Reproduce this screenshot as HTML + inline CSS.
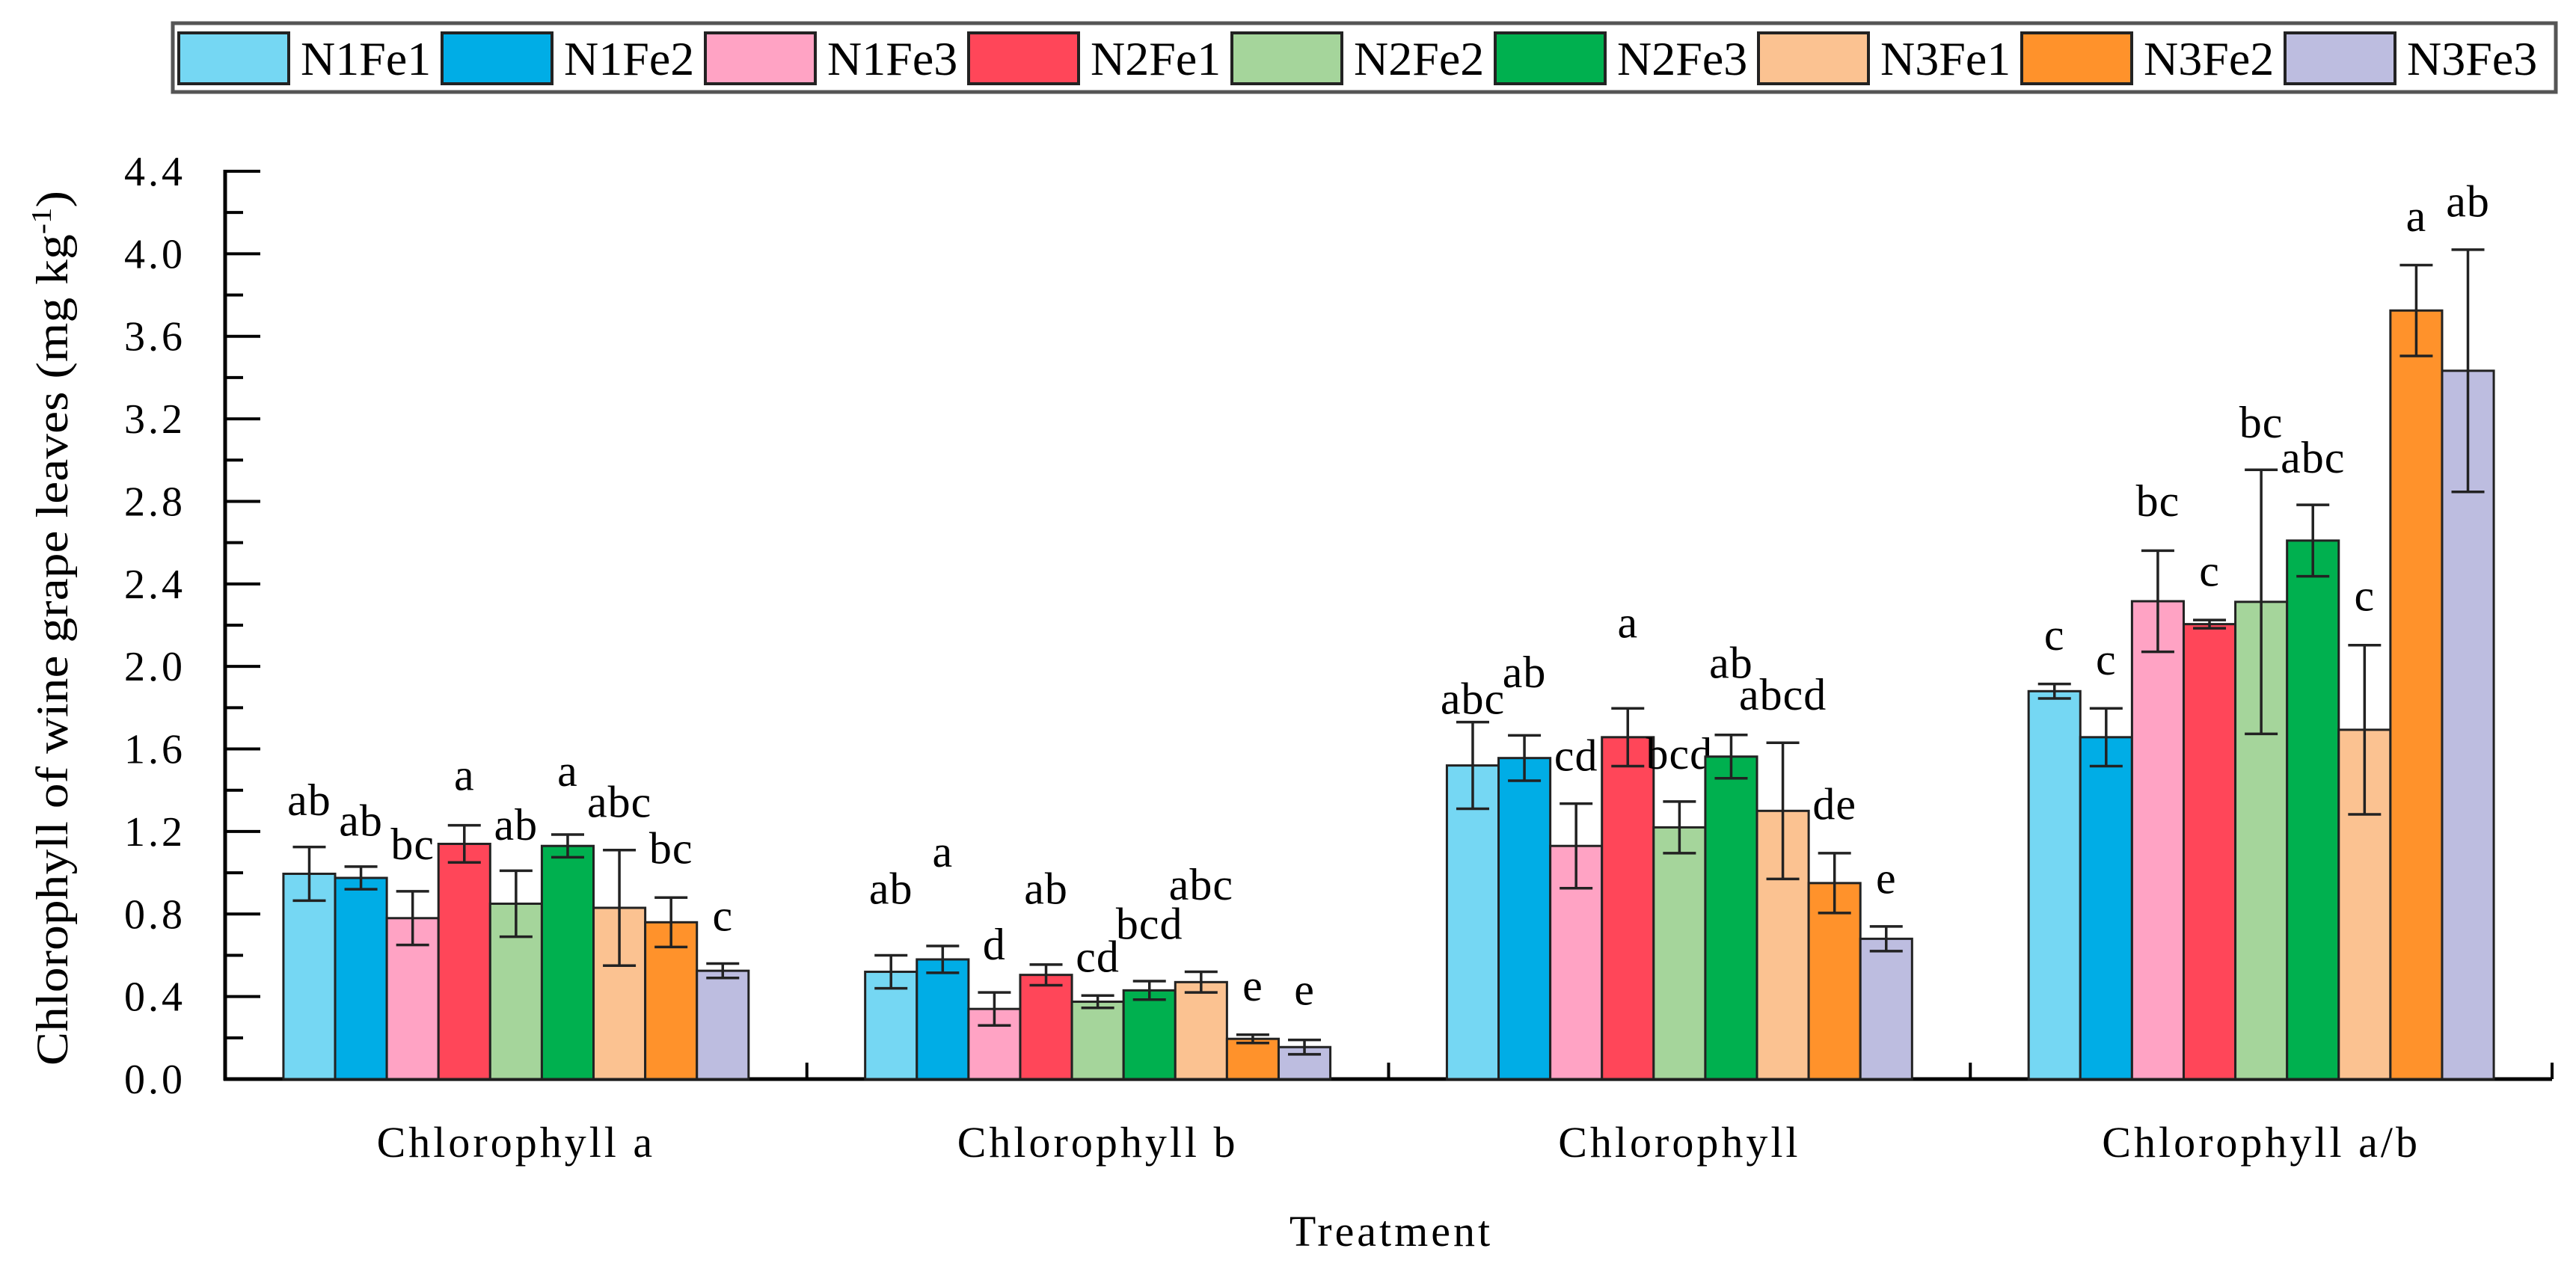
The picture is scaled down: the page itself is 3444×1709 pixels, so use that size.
<!DOCTYPE html>
<html><head><meta charset="utf-8"><style>
html,body{margin:0;padding:0;background:#fff;}
svg{display:block;}
svg text{font-family:"Liberation Serif","Times New Roman",serif;}
</style></head><body>
<svg id="chart" width="3444" height="1709" viewBox="0 0 3444 1709" font-family="Liberation Serif, serif">
<g id="legend"></g>
<g id="axes"></g>
<g id="bars"></g>
</svg>
<script>
const categories = ["Chlorophyll a","Chlorophyll b","Chlorophyll","Chlorophyll a/b"];
const seriesNames = ["N1Fe1","N1Fe2","N1Fe3","N2Fe1","N2Fe2","N2Fe3","N3Fe1","N3Fe2","N3Fe3"];
const colors = ["#75d7f3","#00ade6","#ffa3c4","#ff4659","#a5d59b","#00b04f","#fbc291","#ff922b","#bdbde0"];
const valChlA  = [0.995,0.975,0.78,1.14,0.85,1.13,0.83,0.76,0.525];
const errChlA  = [0.13,0.055,0.13,0.09,0.16,0.055,0.28,0.12,0.035];
const lblChlA  = ["ab","ab","bc","a","ab","a","abc","bc","c"];
const lblYChlA = [1.28,1.18,1.065,1.40,1.16,1.42,1.27,1.045,0.72];
const valChlB  = [0.52,0.58,0.34,0.505,0.375,0.43,0.47,0.195,0.155];
const errChlB  = [0.08,0.065,0.08,0.05,0.03,0.045,0.05,0.02,0.035];
const lblChlB  = ["ab","a","d","ab","cd","bcd","abc","e","e"];
const lblYChlB = [0.85,1.03,0.58,0.85,0.52,0.68,0.87,0.38,0.36];
const valChl   = [1.52,1.556,1.13,1.657,1.22,1.563,1.30,0.95,0.68];
const errChl   = [0.21,0.11,0.205,0.14,0.125,0.105,0.33,0.145,0.06];
const lblChl   = ["abc","ab","cd","a","bcd","ab","abcd","de","e"];
const lblYChl  = [1.77,1.90,1.495,2.14,1.505,1.945,1.79,1.26,0.90];
const valRatio = [1.88,1.657,2.316,2.205,2.313,2.61,1.693,3.725,3.433];
const errRatio = [0.035,0.14,0.245,0.02,0.64,0.173,0.41,0.22,0.587];
const lblRatio = ["c","c","bc","c","bc","abc","c","a","ab"];
const lblYRatio= [2.08,1.96,2.73,2.39,3.11,2.94,2.27,4.11,4.18];
const yTicks = ["0.0","0.4","0.8","1.2","1.6","2.0","2.4","2.8","3.2","3.6","4.0","4.4"];

const values=[valChlA,valChlB,valChl,valRatio];
const errors=[errChlA,errChlB,errChl,errRatio];
const labels=[lblChlA,lblChlB,lblChl,lblRatio];
const labelY=[lblYChlA,lblYChlB,lblYChl,lblYRatio];

const NS="http://www.w3.org/2000/svg";
const FF="Liberation Serif, serif";
const X0=301,X1=3412,Y0=1443,YTOP=229,YMAX=4.4;
const groupW=(X1-X0)/categories.length, barW=69.1;
function yS(v){return Y0-(v/YMAX)*(Y0-YTOP);}
function gC(g){return X0+groupW*(g+0.5);}
function bX(g,i){return gC(g)-barW*seriesNames.length/2+barW*i;}
function mk(tag,attrs,parent){const e=document.createElementNS(NS,tag);for(const k in attrs)e.setAttribute(k,attrs[k]);if(tag==='text')e.setAttribute('font-family',FF);parent.appendChild(e);return e;}

// legend
const lg=document.getElementById('legend');
const lbox=mk('rect',{x:231,y:31,width:3186,height:92,fill:'#fff',stroke:'#555',"stroke-width":5},lg);


seriesNames.forEach((n,i)=>{
  const sx=239+352*i;
  const sw=mk('rect',{x:sx,y:44,width:147,height:68,fill:colors[i],stroke:'#222',"stroke-width":4},lg);
  
  
  const t=mk('text',{x:sx+163,y:100,"font-size":64,fill:'#000'},lg);
  t.textContent=n;
  
  
});

// axes
const ax=document.getElementById('axes');
const yl=mk('line',{x1:X0,y1:YTOP-2,x2:X0,y2:Y0+2,stroke:'#000',"stroke-width":5},ax);


const xl=mk('line',{x1:X0-2,y1:Y0,x2:X1,y2:Y0,stroke:'#000',"stroke-width":5},ax);


yTicks.forEach((lab,i)=>{
  const v=parseFloat(lab), y=yS(v);
  const tk=mk('line',{x1:X0,y1:y,x2:X0+47,y2:y,stroke:'#000',"stroke-width":4},ax);
  
  
  if(i<yTicks.length-1){
    const ym=yS(v+0.2);
    const mt=mk('line',{x1:X0,y1:ym,x2:X0+24,y2:ym,stroke:'#000',"stroke-width":4},ax);
    
    
  }
  const t=mk('text',{x:248,y:y+19,"text-anchor":"end","font-size":56,"letter-spacing":4},ax);
  t.textContent=lab;
  
  
});
for(let g=1;g<=categories.length;g++){
  const x=X0+groupW*g;
  const d=mk('line',{x1:x,y1:Y0,x2:x,y2:Y0-22,stroke:'#000',"stroke-width":4},ax);
  
  
}
categories.forEach((c,g)=>{
  const t=mk('text',{x:gC(g),y:1547,"text-anchor":"middle","font-size":58,"letter-spacing":4},ax);
  t.textContent=c;
  
  
});
const xt=mk('text',{x:1860,y:1666,"text-anchor":"middle","font-size":58,"letter-spacing":4},ax);
xt.textContent="Treatment";


const ytt=mk('text',{x:0,y:0,"text-anchor":"middle","font-size":60,textLength:1170,lengthAdjust:"spacingAndGlyphs",transform:"translate(90,840) rotate(-90)"},ax);
ytt.innerHTML='Chlorophyll of wine grape leaves (mg kg<tspan dy="-22" font-size="38">-1</tspan><tspan dy="22">)</tspan>';



// bars
const bg=document.getElementById('bars');
categories.forEach((c,g)=>{
  seriesNames.forEach((s,i)=>{
    const v=values[g][i], e=errors[g][i], x=bX(g,i), y=yS(v);
    const r=mk('rect',{x:x,y:y,width:barW,height:Y0-y,fill:colors[i],stroke:'#222',"stroke-width":3},bg);
    
    
    const cx=x+barW/2, yh=yS(v+e), ylo=yS(v-e);
    const eb=mk('path',{d:`M${cx},${yh}V${ylo}M${cx-22},${yh}H${cx+22}M${cx-22},${ylo}H${cx+22}`,stroke:'#222',"stroke-width":3.5,fill:'none'},bg);
    
    
    const t=mk('text',{x:cx,y:yS(labelY[g][i]),"text-anchor":"middle","font-size":60,"letter-spacing":1},bg);
    t.textContent=labels[g][i];
    
    
  });
});
</script>
</body></html>
